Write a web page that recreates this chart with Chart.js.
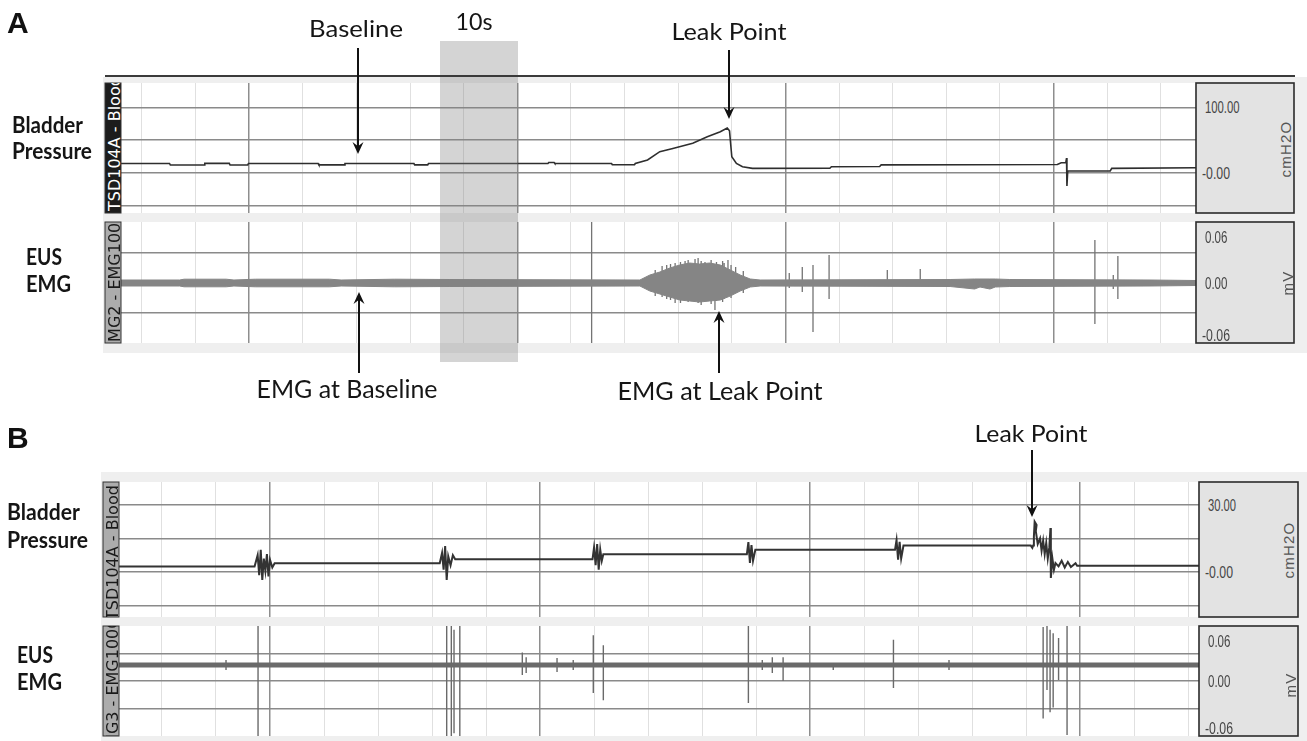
<!DOCTYPE html>
<html>
<head>
<meta charset="utf-8">
<script src="https://cdn.jsdelivr.net/npm/chart.js@4.4.1/dist/chart.umd.min.js"></script>
<style>
  body { margin: 0; width: 1307px; height: 741px; position: relative; overflow: hidden; background: #fff; }
  .bg { position: absolute; background: #efefef; }
  .strip { position: absolute; background: #fff; }
  .strip canvas { display: block; }
  #fg { position: absolute; left: 0; top: 0; pointer-events: none; }
</style>
</head>
<body>
<div class="bg" style="left:103px;top:77px;width:1204px;height:276px"></div>
<div class="bg" style="left:101px;top:472px;width:1206px;height:269px"></div>

<div class="strip" style="left:121px;top:83px;width:1075px;height:130px"><canvas id="pA"></canvas></div>
<div class="strip" style="left:121px;top:222px;width:1075px;height:121px"><canvas id="eA"></canvas></div>
<div class="strip" style="left:119px;top:482px;width:1080px;height:135px"><canvas id="pB"></canvas></div>
<div class="strip" style="left:119px;top:626px;width:1080px;height:110px"><canvas id="eB"></canvas></div>

<svg id="fg" width="1307" height="741" xmlns="http://www.w3.org/2000/svg"></svg>

<script>
/* ── Data: time in s, pressure in cmH2O, EMG in mV ── */

// A — bladder pressure
const pressA_t = [-2.74, 3.6, 3.7, 8.1, 8.2, 11.4, 11.5, 13.8, 13.9, 23.0, 23.1, 26.4, 26.5, 35.5, 35.6, 37.3, 37.4, 53.0, 53.1, 53.8,
                  53.9, 61.3, 61.4, 64.3, 64.4, 66.0, 67.6, 69.3, 71.9, 73.8, 75.5, 76.4, 76.7, 77.0, 77.6, 78.4, 79.7, 89.8, 90.0, 96.3,
                  96.5, 119.5, 120.0, 120.6, 120.7, 120.75, 120.85, 126.4, 126.6, 137.6];
const pressA_v = [14.1, 14.1, 11.8, 11.8, 14.3, 14.3, 11.8, 11.8, 14.1, 14.1, 12.0, 12.0, 14.1, 14.1, 12.0, 12.0, 14.1, 14.1, 15.6, 15.6,
                  14.1, 14.1, 12.2, 12.2, 14.1, 19.4, 32.2, 37.0, 45.0, 55.0, 62.7, 68.5, 64.0, 24.5, 14.3, 9.2, 6.7, 6.9, 9.2, 9.5,
                  12.0, 12.5, 15.3, 15.3, 22.5, -20.3, 2.6, 2.8, 6.7, 7.5];

// A — EUS EMG envelope
const emgA_t  = [-2.74, 4.9, 5.5, 11.0, 12.0, 14.8, 24.5, 26.0, 33.0, 40.2, 65.0, 66.3, 67.6, 68.9, 70.2, 71.5, 72.8, 74.1, 75.5, 76.8,
                 78.1, 79.4, 80.7, 105.5, 108.7, 109.4, 110.7, 111.4, 113.3, 131.6, 137.6];
const emgA_hi = [0.003, 0.003, 0.0038, 0.0038, 0.003, 0.0038, 0.0038, 0.003, 0.0038, 0.0035, 0.003, 0.008, 0.011, 0.015, 0.018, 0.020, 0.019, 0.020, 0.018, 0.013,
                 0.008, 0.004, 0.003, 0.0035, 0.004, 0.004, 0.004, 0.004, 0.0035, 0.003, 0.0025];
const emgA_lo = [-0.003, -0.003, -0.0038, -0.0038, -0.003, -0.0038, -0.0038, -0.003, -0.0038, -0.0035, -0.003, -0.008, -0.011, -0.014, -0.017, -0.018, -0.019, -0.018, -0.017, -0.013,
                 -0.008, -0.004, -0.003, -0.0035, -0.006, -0.004, -0.006, -0.004, -0.0035, -0.003, -0.0025];
// A — EMG spikes
const spikeA_t  = [58.7, 67.0, 67.9, 68.5, 69.0, 69.6, 70.3, 70.9, 71.3, 72.2, 72.6, 73.0, 73.5, 74.3, 74.8, 75.0, 75.8, 76.0, 76.5, 76.9,
                   77.5, 78.5, 84.5, 86.2, 87.6, 89.7, 97.3, 101.6, 124.4, 126.8, 127.4];
const spikeA_hi = [0.061, 0.013, 0.017, 0.018, 0.019, 0.020, 0.021, 0.022, 0.023, 0.024, 0.025, 0.022, 0.021, 0.023, 0.010, 0.021, 0.022, 0.020, 0.023, 0.018,
                   0.016, 0.012, 0.010, 0.016, 0.018, 0.028, 0.013, 0.014, 0.043, 0.008, 0.027];
const spikeA_lo = [-0.060, -0.013, -0.014, -0.016, -0.017, -0.020, -0.020, -0.012, -0.019, -0.015, -0.020, -0.022, -0.014, -0.021, -0.027, -0.018, -0.019, -0.016, -0.010, -0.015,
                   -0.010, -0.010, -0.005, -0.009, -0.049, -0.016, -0.002, -0.002, -0.041, -0.006, -0.016];

// B — bladder pressure
const pressB_t = [-5.57, 12.0, 12.4, 12.6, 12.8, 13.0, 13.2, 13.4, 13.6, 13.8, 14.0, 14.3, 14.6, 36.0, 36.3, 36.5, 36.7, 36.9, 37.1, 37.4,
                  37.7, 38.0, 55.8, 56.0, 56.2, 56.4, 56.6, 56.8, 57.0, 57.2, 75.8, 76.0, 76.2, 76.4, 76.6, 76.9, 95.0, 95.2, 95.4, 95.6,
                  95.8, 96.1, 112.6, 112.8, 112.9, 113.0, 113.1, 113.35, 113.25, 113.5, 113.8, 114.0, 114.2, 114.4, 114.6, 114.8, 115.0, 115.15, 115.2, 115.4,
                  115.6, 115.8, 116.2, 116.6, 117.0, 117.4, 117.8, 118.4, 118.6, 134.4];
const pressB_v = [2.4, 2.4, 7.5, -1.5, 9.9, -3.6, 6.0, 0.5, 8.0, -2.0, 5.5, 2.0, 3.9, 3.9, 8.5, 1.0, 11.6, -3.6, 7.0, 3.0,
                  7.5, 5.7, 5.7, 11.0, 3.0, 12.5, 1.0, 10.0, 5.0, 7.9, 7.9, 13.4, 4.0, 12.0, 5.0, 9.9, 9.9, 14.3, 5.5, 13.5,
                  6.0, 11.8, 11.8, 10.8, 11.8, 15.8, 22.5, 21.0, 18.3, 12.5, 15.0, 9.5, 14.0, 8.0, 13.0, 6.0, 11.0, 19.7, -2.7, 6.0,
                  1.0, 4.0, 2.5, 5.0, 2.0, 4.5, 2.2, 3.9, 2.8, 2.8];

// B — EUS EMG (baseline + spikes)
const emgB_t = [-5.57, 134.4];
const emgB_v = [0.0175, 0.0175];
const spikeB_t  = [8.3, 12.45, 36.9, 37.5, 37.85, 38.6, 46.7, 47.2, 51.2, 53.3, 55.9, 57.2, 76.0, 77.8, 79.1, 80.5, 87.0, 94.8, 102.0, 114.2, 114.7, 115.1, 115.5, 116.2, 117.3];
const spikeB_hi = [0.023, 0.060, 0.060, 0.060, 0.056, 0.060, 0.031, 0.026, 0.025, 0.023, 0.050, 0.039, 0.060, 0.023, 0.026, 0.026, 0.0185, 0.045, 0.023, 0.059, 0.060, 0.056, 0.052, 0.047, 0.060];
const spikeB_lo = [0.012, -0.060, -0.060, -0.060, -0.057, -0.060, 0.0065, 0.0087, 0.0098, 0.012, -0.013, -0.021, -0.024, 0.012, 0.0087, 0.000, 0.012, -0.0076, 0.012, -0.041, -0.0098, -0.034, -0.029, 0.001, -0.059];

// grid ticks and channel-box labels
const pressA_ticks = [-50, 0, 50, 100];
const emgA_ticks   = [-0.03, 0, 0.03];
const pressB_ticks = [-15, 0, 15, 30];
const emgB_ticks   = [-0.03, 0, 0.03];
const pressA_box = ['100.00', '-0.00'], pressA_boxAt = [100, 0];
const emgA_box   = ['0.06', '0.00', '-0.06'], emgA_boxAt = [0.06, 0, -0.06];
const pressB_box = ['30.00', '-0.00'], pressB_boxAt = [30, 0];
const emgB_box   = ['0.06', '0.00', '-0.06'], emgB_boxAt = [0.06, 0, -0.06];

const minorStep = 7, majorStep = 35, majorOffset = 14;

/* ── helpers ── */
const pts = (t, v) => t.map((x, i) => ({ x, y: v[i] }));
const spikes = (t, hi, lo) => t.flatMap((x, i) => [{ x, y: hi[i] }, { x, y: lo[i] }, { x, y: null }]);
const isMajor = v => Math.abs((((v - majorOffset) % majorStep) + majorStep) % majorStep) < 1e-6;
function gridSteps(lo, hi) {
  const out = [];
  for (let v = Math.ceil(lo / minorStep) * minorStep; v <= hi; v += minorStep) out.push(v);
  return out;
}

function makeStrip(id, xr, yr, yTicks, datasets) {
  return new Chart(document.getElementById(id), {
    type: 'line',
    data: { datasets },
    options: {
      animation: false, responsive: true, maintainAspectRatio: false, events: [],
      layout: { padding: 0 },
      plugins: { legend: { display: false }, tooltip: { enabled: false } },
      elements: { point: { radius: 0 }, line: { tension: 0 } },
      scales: {
        x: {
          type: 'linear', min: xr[0], max: xr[1],
          afterBuildTicks: s => { s.ticks = gridSteps(xr[0], xr[1]).map(v => ({ value: v })); },
          ticks: { display: false }, border: { display: false },
          grid: {
            drawTicks: false,
            color: c => (c.tick && isMajor(c.tick.value)) ? '#8e8e8e' : '#e0e0e0',
            lineWidth: c => (c.tick && isMajor(c.tick.value)) ? 1.5 : 1,
          },
        },
        y: {
          type: 'linear', min: yr[0], max: yr[1],
          afterBuildTicks: s => { s.ticks = yTicks.map(v => ({ value: v })); },
          ticks: { display: false }, border: { display: false },
          grid: { drawTicks: false, color: '#8a8a8a', lineWidth: 1.5 },
        },
      },
    },
  });
}

/* ── Charts ── */
const chPA = makeStrip('pA', [-2.74, 137.6], [-61.6, 137.2], pressA_ticks, [
  { data: pts(pressA_t, pressA_v), borderColor: '#2e2e2e', borderWidth: 1.6 },
]);
const chEA = makeStrip('eA', [-2.74, 137.6], [-0.060, 0.061], emgA_ticks, [
  { data: pts(emgA_t, emgA_hi), borderColor: '#858585', borderWidth: 1, fill: false },
  { data: pts(emgA_t, emgA_lo), borderColor: '#858585', borderWidth: 1, fill: '-1', backgroundColor: '#858585' },
  { data: spikes(spikeA_t, spikeA_hi, spikeA_lo), borderColor: '#747474', borderWidth: 1.3 },
]);
const chPB = makeStrip('pB', [-5.57, 134.4], [-20.2, 40.3], pressB_ticks, [
  { data: pts(pressB_t, pressB_v), borderColor: '#333', borderWidth: 2 },
]);
const chEB = makeStrip('eB', [-5.57, 134.4], [-0.060, 0.060], emgB_ticks, [
  { data: pts(emgB_t, emgB_v), borderColor: '#6a6a6a', borderWidth: 5 },
  { data: spikes(spikeB_t, spikeB_hi, spikeB_lo), borderColor: '#6a6a6a', borderWidth: 1.4 },
]);

/* ── Overlay: boxes, labels, arrows ── */
let svg = '';
const add = s => { svg += s; };

function chanBox(id, x, y, w, h, fill, color, label, offset) {
  add(`<clipPath id="${id}"><rect x="${x}" y="${y}" width="${w}" height="${h}"/></clipPath>`);
  add(`<rect x="${x}" y="${y}" width="${w}" height="${h}" fill="${fill}" stroke="#333" stroke-width="1"/>`);
  add(`<g clip-path="url(#${id})"><text transform="translate(${x + w - 1.5},${y + h}) rotate(-90)" x="${offset}" y="0"
        font-family="DejaVu Sans" font-size="16" fill="${color}">${label}</text></g>`);
}

function unitBox(chart, top, x, w, h, labels, at, unit, ux, uy) {
  add(`<rect x="${x}" y="${top}" width="${w}" height="${h}" fill="#e3e3e3" stroke="#2b2b2b" stroke-width="1.6"/>`);
  labels.forEach((s, i) => {
    let cy = top + chart.scales.y.getPixelForValue(at[i]);
    cy = Math.min(Math.max(cy, top + 15), top + h - 8);
    const lx = x + (s.startsWith('-') ? 6 : 9);
    add(`<text x="${lx}" y="${cy + 6}" font-family="Liberation Sans Narrow, Liberation Sans, sans-serif"
          font-size="16" fill="#454545" textLength="${s.length * 5.6 + (s.includes('00.') ? 1 : 0)}" lengthAdjust="spacingAndGlyphs">${s}</text>`);
  });
  add(`<text transform="translate(${ux},${uy}) rotate(-90)" text-anchor="middle" dominant-baseline="central"
        font-family="Liberation Sans, sans-serif" font-size="15" letter-spacing="1.2" fill="#555">${unit}</text>`);
}

function arrow(x, y0, y1) {
  const d = y1 > y0 ? 1 : -1, hl = 12, hw = 5.5;
  add(`<line x1="${x}" y1="${y0}" x2="${x}" y2="${y1 - d * hl * 0.6}" stroke="#111" stroke-width="2"/>`);
  add(`<path d="M${x} ${y1} L${x - hw} ${y1 - d * hl} L${x} ${y1 - d * hl * 0.65} L${x + hw} ${y1 - d * hl} Z" fill="#111"/>`);
}

function note(x, y, s, size, len, anchor, bold) {
  add(`<text x="${x}" y="${y}" text-anchor="${anchor || 'middle'}" font-family="Lato, sans-serif" font-size="${size}"
        font-weight="${bold ? 700 : 400}" fill="#151515" textLength="${len}" lengthAdjust="spacingAndGlyphs">${s}</text>`);
}

// 10 s band and top rule of panel A
add(`<rect x="440" y="41" width="78" height="321" fill="rgb(128,128,128)" fill-opacity="0.34"/>`);
add(`<line x1="105" y1="76" x2="1295" y2="76" stroke="#3a3a3a" stroke-width="2"/>`);

// channel name boxes
chanBox('cA1', 105, 83, 16, 130, '#1c1c1c', '#fff', 'TSD104A - Blood', 2);
chanBox('cA2', 105, 222, 16, 121, '#acacac', '#1a1a1a', 'EMG2 - EMG100C', -9);
chanBox('cB1', 103, 482, 16, 135, '#acacac', '#1a1a1a', 'TSD104A - Blood', -3);
chanBox('cB2', 103, 626, 16, 110, '#acacac', '#1a1a1a', 'EMG3 - EMG100C', -22);

// range / unit boxes
unitBox(chPA, 83, 1196, 98, 130, pressA_box, pressA_boxAt, 'cmH2O', 1285, 149);
unitBox(chEA, 222, 1196, 98, 121, emgA_box, emgA_boxAt, 'mV', 1287, 283);
unitBox(chPB, 482, 1199, 99, 135, pressB_box, pressB_boxAt, 'cmH2O', 1288, 550);
unitBox(chEB, 626, 1199, 99, 110, emgB_box, emgB_boxAt, 'mV', 1290, 685);

// panel letters
add(`<text x="7" y="33" font-family="Liberation Sans, Arial, sans-serif" font-weight="700" font-size="30" fill="#111">A</text>`);
add(`<text x="7" y="448" font-family="Liberation Sans, Arial, sans-serif" font-weight="700" font-size="30" fill="#111">B</text>`);

// side labels
note(12, 133, 'Bladder', 22, 71, 'start', true);
note(12, 159, 'Pressure', 22, 80, 'start', true);
note(26, 265, 'EUS', 22, 36, 'start', true);
note(26, 292, 'EMG', 22, 45, 'start', true);
note(7, 520, 'Bladder', 22, 73, 'start', true);
note(7, 548, 'Pressure', 22, 81, 'start', true);
note(17, 663, 'EUS', 22, 36, 'start', true);
note(17, 690, 'EMG', 22, 45, 'start', true);

// annotations
note(356, 37, 'Baseline', 23, 94);
note(474, 30, '10s', 23, 37);
note(729, 40, 'Leak Point', 24, 115);
note(347, 398, 'EMG at Baseline', 25, 181);
note(720, 400, 'EMG at Leak Point', 25, 205);
note(1031, 442, 'Leak Point', 24, 113);

arrow(358, 48, 154);
arrow(729, 50, 119);
arrow(359, 373, 292);
arrow(719, 373, 311);
arrow(1032, 450, 517);

document.getElementById('fg').innerHTML = svg;
</script>
</body>
</html>
